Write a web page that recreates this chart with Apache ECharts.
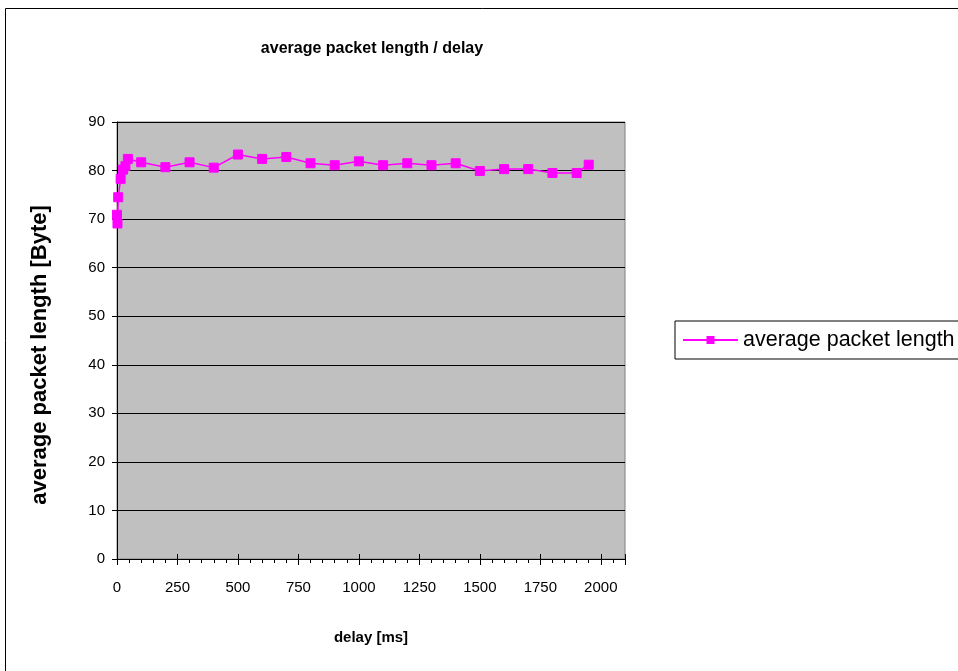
<!DOCTYPE html>
<html>
<head>
<meta charset="utf-8">
<script src="https://cdn.jsdelivr.net/npm/echarts@6/dist/echarts.min.js"></script>
<style>
  html, body { margin: 0; padding: 0; background: #fff; }
  #chart { width: 958px; height: 671px; }
</style>
</head>
<body>
<div id="chart"></div>
<script>
// Measured delay (ms) and the corresponding average packet length (Byte)
const delays = [0, 2, 5, 15, 25, 35, 45, 100, 200, 300, 400, 500, 600, 700, 800, 900,
                1000, 1100, 1200, 1300, 1400, 1500, 1600, 1700, 1800, 1900, 1950];
const lengths = [70.9, 69.1, 74.5, 78.3, 80.2, 80.9, 82.4, 81.7, 80.7, 81.7, 80.6, 83.3, 82.4, 82.8,
                 81.5, 81.1, 81.9, 81.1, 81.5, 81.1, 81.5, 79.9, 80.3, 80.3, 79.5, 79.5, 81.2];

const titleText = 'average packet length / delay';
const xName = 'delay [ms]';
const yName = 'average packet length [Byte]';
const seriesName = 'average packet length';

const FONT = '"Liberation Sans", Arial, sans-serif';
const MAGENTA = '#FF00FF';

const chart = echarts.init(document.getElementById('chart'), null, { renderer: 'canvas' });

const plainNumber = v => String(v);

const xCommon = {
  type: 'value',
  min: 0,
  max: 2100,
  interval: 250,
  splitLine: { show: false },
  minorSplitLine: { show: false }
};

chart.setOption({
  animation: false,
  backgroundColor: '#ffffff',
  title: {
    text: titleText,
    left: 367,
    top: 36,
    textAlign: 'center',
    textStyle: { fontFamily: FONT, fontSize: 16, fontWeight: 'bold', color: '#000' }
  },
  legend: {
    data: [seriesName],
    left: 675,
    top: 321,
    orient: 'vertical',
    padding: [8, 40, 8, 7],
    borderColor: '#000',
    borderWidth: 1,
    itemWidth: 55,
    itemHeight: 10,
    itemGap: 0,
    textStyle: { fontFamily: FONT, fontSize: 21.5, color: '#000' }
  },
  grid: {
    left: 117,
    top: 122,
    right: 333,
    bottom: 112,
    show: true,
    backgroundColor: '#C0C0C0',
    borderColor: '#808080',
    borderWidth: 1
  },
  xAxis: [
    Object.assign({}, xCommon, {
      position: 'bottom',
      name: xName,
      nameLocation: 'middle',
      nameGap: 71,
      nameTextStyle: { fontFamily: FONT, fontSize: 15, fontWeight: 'bold', color: '#000' },
      axisLine: { show: true, onZero: false, lineStyle: { color: '#000', width: 1 } },
      axisTick: { show: true, inside: false, length: 6, lineStyle: { color: '#000' } },
      minorTick: { show: true, splitNumber: 5, length: 4, lineStyle: { color: '#000' } },
      axisLabel: { margin: 21, fontFamily: FONT, fontSize: 15, color: '#000', formatter: plainNumber }
    }),
    // inner half of the crossing major ticks
    Object.assign({}, xCommon, {
      position: 'bottom',
      axisLine: { show: false },
      axisTick: { show: true, inside: true, length: 5, lineStyle: { color: '#000' } },
      minorTick: { show: false },
      axisLabel: { show: false }
    })
  ],
  yAxis: {
    type: 'value',
    min: 0,
    max: 90,
    interval: 10,
    axisLine: { show: true, lineStyle: { color: '#000', width: 1 } },
    axisTick: { show: true, inside: false, length: 5, lineStyle: { color: '#000' } },
    axisLabel: { margin: 12, fontFamily: FONT, fontSize: 15, color: '#000', formatter: plainNumber },
    splitLine: { show: true, lineStyle: { color: '#000', width: 1 } }
  },
  graphic: [
    {
      type: 'rect',
      silent: true,
      shape: { x: 5.5, y: 8.5, width: 1000, height: 700 },
      style: { fill: 'none', stroke: '#000', lineWidth: 1 },
      z: -1
    },
    {
      // vertical axis title, reading bottom to top
      type: 'text',
      silent: true,
      x: 40,
      y: 355,
      rotation: Math.PI / 2,
      style: {
        text: yName,
        font: 'bold 22px ' + FONT,
        fill: '#000',
        align: 'center',
        verticalAlign: 'middle'
      }
    }
  ],
  series: [
    {
      name: seriesName,
      type: 'line',
      xAxisIndex: 0,
      data: delays.map((d, i) => [d, lengths[i]]),
      symbol: 'rect',
      symbolSize: 9,
      showAllSymbol: true,
      lineStyle: { color: MAGENTA, width: 1.5 },
      itemStyle: { color: MAGENTA, borderColor: MAGENTA },
      emphasis: { disabled: true }
    }
  ]
});
</script>
</body>
</html>
